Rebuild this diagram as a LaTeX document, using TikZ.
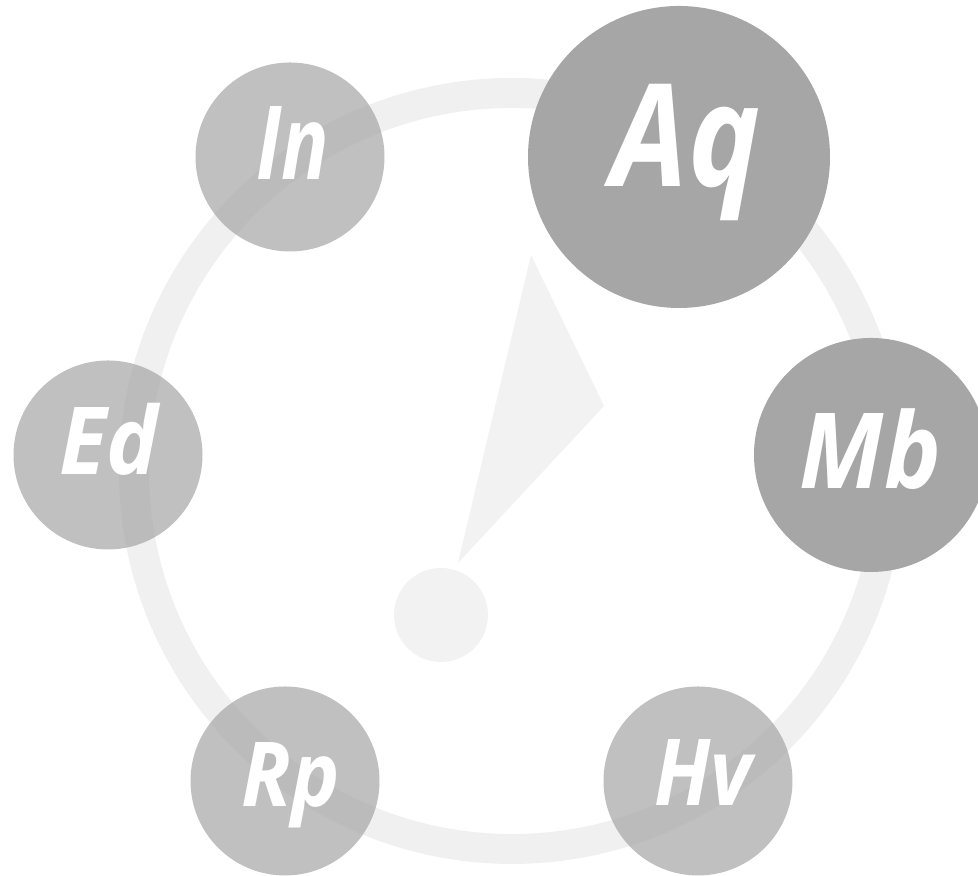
\documentclass[tikz,border=0pt]{standalone}
\usepackage{fontspec}
\usepackage{graphicx}
\setmainfont{Open Sans}
\usetikzlibrary{positioning}
\definecolor{ringgray}{RGB}{240,240,240}
\definecolor{markgray}{RGB}{242,242,242}
\definecolor{softgray}{RGB}{165,165,165}
\definecolor{darkgray}{RGB}{166,166,166}
\tikzset{
  softdot/.style={circle,inner sep=0pt,fill=softgray,fill opacity=0.7},
  darkdot/.style={circle,inner sep=0pt,fill=darkgray},
  dotlabel/.style={anchor=base,inner sep=0pt,text=white},
}
\newcommand{\dotfont}[1]{\fontsize{#1}{#1}\selectfont\bfseries\itshape}
\begin{document}
\begin{tikzpicture}
  \useasboundingbox (0,0) rectangle (9.78,8.76);

  % ring
  \draw[ringgray,line width=0.30cm] (5.12,4.05) circle (3.78);

  % pointer
  \fill[markgray] (5.31,6.21) -- (6.04,4.70) -- (4.58,3.13) -- cycle;
  \node[circle,inner sep=0pt,minimum size=0.94cm,fill=markgray] (hub) at (4.41,2.61) {};

  % small translucent dots
  \foreach \name/\x/\y/\txt/\tx/\ty/\sz/\sx in {in/2.90/7.19/In/2.925/6.96/29.1/0.77,ed/1.08/4.21/Ed/1.09/4.01/26.7/0.93,
      rp/2.85/0.95/Rp/2.91/0.69/25.5/0.91,hv/6.98/0.95/Hv/7.03/0.70/26.3/0.87} {
    \node[softdot,minimum size=1.89cm] (\name) at (\x,\y) {};
    \node[dotlabel,font=\dotfont{\sz}] (\name-label) at (\tx,\ty) {\scalebox{\sx}[1]{\txt}};
  }

  % opaque dots
  \foreach \name/\x/\y/\dia/\txt/\tx/\ty/\sz/\sx in {aq/6.79/7.19/3.02/Aq/6.86/6.89/40.6/0.85,mb/8.71/4.21/2.34/Mb/8.705/3.87/29.9/0.91} {
    \node[darkdot,minimum size=\dia cm] (\name) at (\x,\y) {};
    \node[dotlabel,font=\dotfont{\sz}] (\name-label) at (\tx,\ty) {\scalebox{\sx}[1]{\txt}};
  }
\end{tikzpicture}
\end{document}
